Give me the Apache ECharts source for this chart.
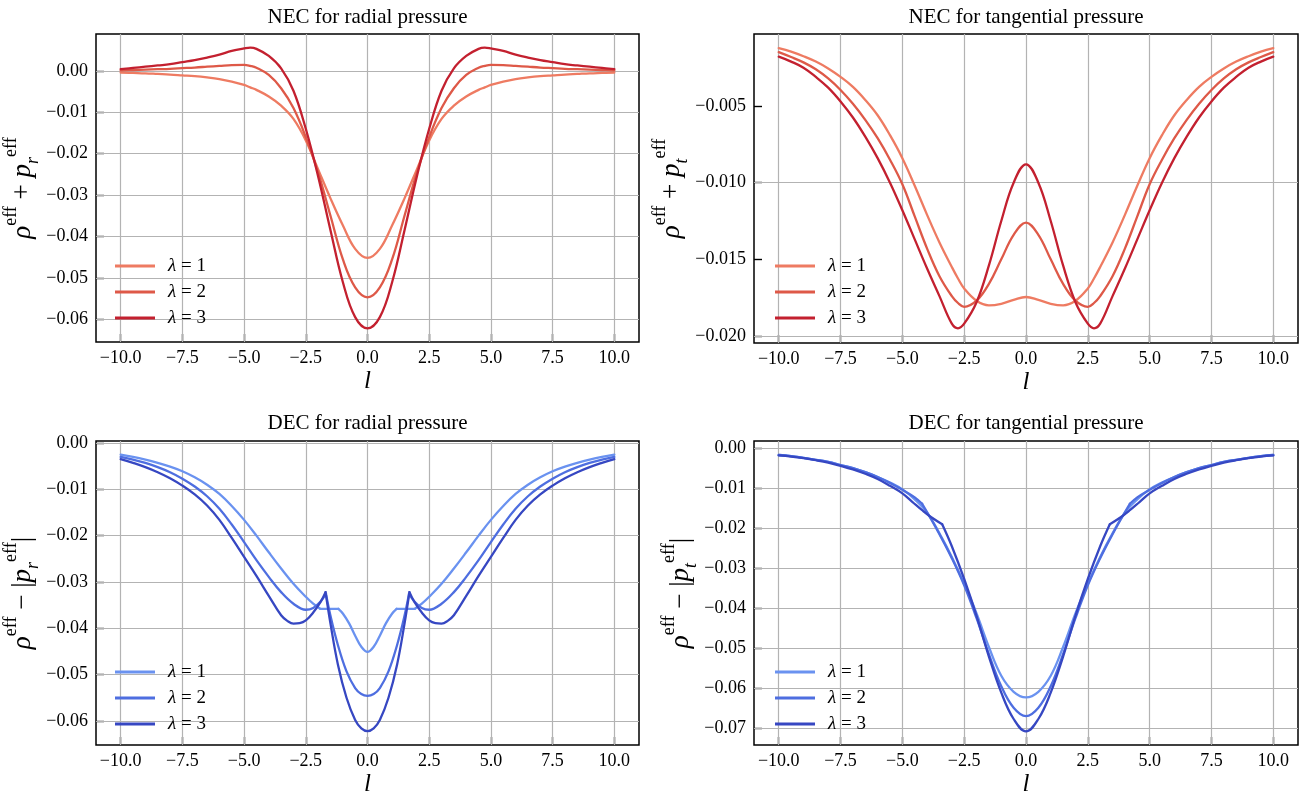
<!DOCTYPE html>
<html><head><meta charset="utf-8">
<script src="https://cdn.jsdelivr.net/npm/echarts@6/dist/echarts.min.js"></script>
<style>html,body{margin:0;padding:0;background:#fff}#c{width:1302px;height:798px}</style>
</head><body><div id="c"></div>
<script>
// ---------- ticks / labels ----------
const xTicks = [-10, -7.5, -5, -2.5, 0, 2.5, 5, 7.5, 10];
const yTicksNecR = [0, -0.01, -0.02, -0.03, -0.04, -0.05, -0.06];
const yTicksNecT = [-0.005, -0.010, -0.015, -0.020];
const yTicksDecR = [0, -0.01, -0.02, -0.03, -0.04, -0.05, -0.06];
const yTicksDecT = [0, -0.01, -0.02, -0.03, -0.04, -0.05, -0.06, -0.07];
const titles = ['NEC for radial pressure', 'NEC for tangential pressure', 'DEC for radial pressure', 'DEC for tangential pressure'];
const lambdas = ['1', '2', '3'];
const SCALE = 1e-3; // values below are given in units of 1e-3

// ---------- NEC radial ----------
const necR_l = [-10,-9.5,-9,-8.5,-8,-7.5,-7,-6.5,-6,-5.5,-5,-4.75,-4.5,-4,-3.5,-3,-2.5,-2,-1.5,-1,-0.5,0,0.5,1,1.5,2,2.5,3,3.5,4,4.5,4.75,5,5.5,6,6.5,7,7.5,8,8.5,9,9.5,10];
const necR_1 = [-0.4,-0.5,-0.6,-0.75,-0.9,-1.1,-1.3,-1.6,-2.0,-2.6,-3.4,-4.0,-4.6,-6.2,-8.4,-11.6,-16.8,-23.8,-30.8,-37.3,-43.0,-45.2,-43.0,-37.3,-30.8,-23.8,-16.8,-11.6,-8.4,-6.2,-4.6,-4.0,-3.4,-2.6,-2.0,-1.6,-1.3,-1.1,-0.9,-0.75,-0.6,-0.5,-0.4];
const necR_2 = [0.1,0.2,0.3,0.4,0.5,0.65,0.8,1.0,1.2,1.4,1.45,1.2,0.75,-1.0,-4.2,-9.0,-16.0,-24.6,-35.0,-45.5,-52.3,-54.7,-52.3,-45.5,-35.0,-24.6,-16.0,-9.0,-4.2,-1.0,0.75,1.2,1.45,1.4,1.2,1.0,0.8,0.65,0.5,0.4,0.3,0.2,0.1];
const necR_3 = [0.4,0.7,1.0,1.3,1.6,2.1,2.6,3.2,3.9,4.8,5.4,5.6,5.3,3.6,0.6,-4.8,-14.0,-25.5,-38.5,-51.0,-59.5,-62.2,-59.5,-51.0,-38.5,-25.5,-14.0,-4.8,0.6,3.6,5.3,5.6,5.4,4.8,3.9,3.2,2.6,2.1,1.6,1.3,1.0,0.7,0.4];

// ---------- NEC tangential ----------
const necT_l = [-10,-9.5,-9,-8.5,-8,-7.5,-7,-6.5,-6,-5.5,-5,-4.5,-4,-3.5,-3,-2.75,-2.5,-2,-1.5,-1,-0.5,0,0.5,1,1.5,2,2.5,2.75,3,3.5,4,4.5,5,5.5,6,6.5,7,7.5,8,8.5,9,9.5,10];
const necT_1 = [-1.22,-1.45,-1.75,-2.1,-2.55,-3.1,-3.75,-4.6,-5.6,-6.9,-8.4,-10.2,-12.1,-13.9,-15.5,-16.25,-16.9,-17.7,-18.0,-17.9,-17.65,-17.46,-17.65,-17.9,-18.0,-17.7,-16.9,-16.25,-15.5,-13.9,-12.1,-10.2,-8.4,-6.9,-5.6,-4.6,-3.75,-3.1,-2.55,-2.1,-1.75,-1.45,-1.22];
const necT_2 = [-1.48,-1.8,-2.15,-2.6,-3.2,-3.95,-4.85,-5.9,-7.1,-8.5,-10.1,-12.2,-14.3,-16.1,-17.4,-17.85,-18.1,-17.7,-16.6,-15.0,-13.4,-12.6,-13.4,-15.0,-16.6,-17.7,-18.1,-17.85,-17.4,-16.1,-14.3,-12.2,-10.1,-8.5,-7.1,-5.9,-4.85,-3.95,-3.2,-2.6,-2.15,-1.8,-1.48];
const necT_3 = [-1.78,-2.1,-2.5,-3.1,-3.8,-4.7,-5.75,-7.0,-8.4,-10.0,-11.8,-13.7,-15.6,-17.4,-19.2,-19.5,-19.2,-17.8,-15.4,-12.5,-10.0,-8.8,-10.0,-12.5,-15.4,-17.8,-19.2,-19.5,-19.2,-17.4,-15.6,-13.7,-11.8,-10.0,-8.4,-7.0,-5.75,-4.7,-3.8,-3.1,-2.5,-2.1,-1.78];

// ---------- DEC radial ([l, value]) ----------
const decR_1 = [[-10,-2.5],[-9.5,-3.0],[-9,-3.6],[-8.5,-4.3],[-8,-5.1],[-7.5,-6.1],[-7,-7.4],[-6.5,-9.0],[-6,-11.0],[-5.5,-13.6],[-5,-16.6],[-4.5,-20.0],[-4,-23.6],[-3.5,-27.1],[-3,-30.4],[-2.5,-33.2],[-2.2,-34.7],[-1.92,-35.8],[-1.18,-35.8],[-1,-36.8],[-0.75,-38.9],[-0.5,-41.6],[-0.25,-44.0],[0,-45.1],[0.25,-44.0],[0.5,-41.6],[0.75,-38.9],[1,-36.8],[1.18,-35.8],[1.92,-35.8],[2.2,-34.7],[2.5,-33.2],[3,-30.4],[3.5,-27.1],[4,-23.6],[4.5,-20.0],[5,-16.6],[5.5,-13.6],[6,-11.0],[6.5,-9.0],[7,-7.4],[7.5,-6.1],[8,-5.1],[8.5,-4.3],[9,-3.6],[9.5,-3.0],[10,-2.5]];
const decR_2 = [[-10,-3.0],[-9.5,-3.6],[-9,-4.3],[-8.5,-5.2],[-8,-6.3],[-7.5,-7.7],[-7,-9.4],[-6.5,-11.5],[-6,-14.2],[-5.5,-17.6],[-5,-21.4],[-4.5,-25.3],[-4,-28.9],[-3.5,-32.2],[-3,-34.7],[-2.5,-36.0],[-2.2,-35.6],[-1.9,-34.2],[-1.68,-32.6],[-1.5,-37.3],[-1.2,-43.6],[-0.85,-49.3],[-0.5,-52.9],[-0.25,-54.2],[0,-54.6],[0.25,-54.2],[0.5,-52.9],[0.85,-49.3],[1.2,-43.6],[1.5,-37.3],[1.68,-32.6],[1.9,-34.2],[2.2,-35.6],[2.5,-36.0],[3,-34.7],[3.5,-32.2],[4,-28.9],[4.5,-25.3],[5,-21.4],[5.5,-17.6],[6,-14.2],[6.5,-11.5],[7,-9.4],[7.5,-7.7],[8,-6.3],[8.5,-5.2],[9,-4.3],[9.5,-3.6],[10,-3.0]];
const decR_3 = [[-10,-3.5],[-9.5,-4.3],[-9,-5.2],[-8.5,-6.3],[-8,-7.6],[-7.5,-9.2],[-7,-11.1],[-6.5,-13.5],[-6,-16.6],[-5.5,-20.5],[-5,-24.6],[-4.5,-28.7],[-4,-33.0],[-3.5,-37.2],[-3.25,-38.4],[-3,-39.0],[-2.75,-38.9],[-2.5,-38.3],[-2.2,-36.6],[-1.9,-34.3],[-1.7,-32.2],[-1.5,-39.0],[-1.2,-47.8],[-0.85,-55.0],[-0.5,-59.8],[-0.25,-61.6],[0,-62.2],[0.25,-61.6],[0.5,-59.8],[0.85,-55.0],[1.2,-47.8],[1.5,-39.0],[1.7,-32.2],[1.9,-34.3],[2.2,-36.6],[2.5,-38.3],[2.75,-38.9],[3,-39.0],[3.25,-38.4],[3.5,-37.2],[4,-33.0],[4.5,-28.7],[5,-24.6],[5.5,-20.5],[6,-16.6],[6.5,-13.5],[7,-11.1],[7.5,-9.2],[8,-7.6],[8.5,-6.3],[9,-5.2],[9.5,-4.3],[10,-3.5]];
// corners (kinks) in the DEC curves
const decR_kinks = [[-1.92,-1.18,1.18,1.92], [-1.68,1.68], [-1.7,1.7]];

// ---------- DEC tangential ([l, value]) ----------
const decT_1 = [[-10,-1.8],[-9.5,-2.1],[-9,-2.5],[-8.5,-3.0],[-8,-3.5],[-7.5,-4.3],[-7,-5.1],[-6.5,-6.1],[-6,-7.3],[-5.5,-8.7],[-5,-10.4],[-4.5,-12.9],[-4,-16.2],[-3.5,-21.4],[-3,-27.3],[-2.5,-34.0],[-2,-41.4],[-1.5,-49.8],[-1,-57.0],[-0.5,-61.0],[0,-62.4],[0.5,-61.0],[1,-57.0],[1.5,-49.8],[2,-41.4],[2.5,-34.0],[3,-27.3],[3.5,-21.4],[4,-16.2],[4.5,-12.9],[5,-10.4],[5.5,-8.7],[6,-7.3],[6.5,-6.1],[7,-5.1],[7.5,-4.3],[8,-3.5],[8.5,-3.0],[9,-2.5],[9.5,-2.1],[10,-1.8]];
const decT_2 = [[-10,-1.8],[-9.5,-2.1],[-9,-2.5],[-8.5,-3.0],[-8,-3.5],[-7.5,-4.3],[-7,-5.1],[-6.5,-6.1],[-6,-7.3],[-5.5,-8.8],[-5,-10.5],[-4.5,-12.4],[-4.2,-14.0],[-3.85,-17.7],[-3.5,-21.6],[-3,-27.6],[-2.5,-34.4],[-2,-42.6],[-1.5,-51.6],[-1,-59.6],[-0.5,-65.0],[0,-67.1],[0.5,-65.0],[1,-59.6],[1.5,-51.6],[2,-42.6],[2.5,-34.4],[3,-27.6],[3.5,-21.6],[3.85,-17.7],[4.2,-14.0],[4.5,-12.4],[5,-10.5],[5.5,-8.8],[6,-7.3],[6.5,-6.1],[7,-5.1],[7.5,-4.3],[8,-3.5],[8.5,-3.0],[9,-2.5],[9.5,-2.1],[10,-1.8]];
const decT_3 = [[-10,-1.9],[-9.5,-2.2],[-9,-2.6],[-8.5,-3.1],[-8,-3.7],[-7.5,-4.5],[-7,-5.4],[-6.5,-6.5],[-6,-7.8],[-5.5,-9.5],[-5,-11.4],[-4.6,-13.5],[-4.2,-15.6],[-3.8,-17.5],[-3.39,-19.1],[-3,-24.6],[-2.5,-32.8],[-2,-42.0],[-1.5,-52.2],[-1,-61.2],[-0.5,-67.8],[0,-70.9],[0.5,-67.8],[1,-61.2],[1.5,-52.2],[2,-42.0],[2.5,-32.8],[3,-24.6],[3.39,-19.1],[3.8,-17.5],[4.2,-15.6],[4.6,-13.5],[5,-11.4],[5.5,-9.5],[6,-7.8],[6.5,-6.5],[7,-5.4],[7.5,-4.5],[8,-3.7],[8.5,-3.1],[9,-2.6],[9.5,-2.2],[10,-1.9]];
const decT_kinks = [[], [-4.2,4.2], [-3.39,3.39]];

// ---------- styling ----------
const FONT = "'Liberation Serif', 'DejaVu Serif', serif";
const reds = ['#EE7B62', '#DE5948', '#C3202F'];
const blues = ['#6A92F0', '#4E6EE0', '#3647C2'];
const GRID_COLOR = '#b3b3b3';

const grids = [
  {left: 96, top: 34, width: 543, height: 308},
  {left: 754, top: 34, width: 544, height: 309},
  {left: 96, top: 441, width: 543, height: 308},
  {left: 754, top: 441, width: 544, height: 308}
];
const yRanges = [[-0.0655, 0.0089], [-0.02046, -0.0003], [-0.0652, 0.00043], [-0.0743, 0.0017]];
const yTickSets = [yTicksNecR, yTicksNecT, yTicksDecR, yTicksDecT];
const yDigits = [2, 3, 2, 2];
const yNames = [
  '{m|ρ}{s|eff}{o| + }{m|p}{b|r}{s|eff}',
  '{m|ρ}{s|eff}{o| + }{m|p}{b|t}{s|eff}',
  '{m|ρ}{s|eff}{o| − |}{m|p}{b|r}{s|eff}{o||}',
  '{m|ρ}{s|eff}{o| − |}{m|p}{b|t}{s|eff}{o||}'
];
const yNameGaps = [52, 55, 52, 50];

const fmt = (v, d) => (v < 0 ? '\u2212' : '') + Math.abs(v).toFixed(d);

const nameRich = {
  m: {fontFamily: FONT, fontStyle: 'italic', fontSize: 27, lineHeight: 40, verticalAlign: 'middle', color: '#000'},
  o: {fontFamily: FONT, fontSize: 27, lineHeight: 40, verticalAlign: 'middle', color: '#000'},
  s: {fontFamily: FONT, fontSize: 18, lineHeight: 18, verticalAlign: 'top', color: '#000'},
  b: {fontFamily: FONT, fontStyle: 'italic', fontSize: 18, lineHeight: 18, verticalAlign: 'bottom', color: '#000'}
};

const xAxes = grids.map((g, i) => ({
  type: 'value', gridIndex: i, min: -11, max: 11,
  name: 'l', nameLocation: 'middle', nameGap: 27,
  nameTextStyle: {fontFamily: FONT, fontStyle: 'italic', fontSize: 25, color: '#000'},
  axisLine: {show: false, onZero: false},
  axisTick: {show: true, inside: true, length: 8, customValues: xTicks, lineStyle: {color: '#000', width: 1.4}},
  axisLabel: {show: true, customValues: xTicks, margin: 7, fontFamily: FONT, fontSize: 18, color: '#000',
    formatter: v => fmt(v, 1)},
  splitLine: {show: false}
}));
const yAxes = grids.map((g, i) => ({
  type: 'value', gridIndex: i, min: yRanges[i][0], max: yRanges[i][1],
  name: yNames[i], nameLocation: 'middle', nameRotate: 90, nameGap: yNameGaps[i],
  nameTextStyle: {rich: nameRich},
  axisLine: {show: false, onZero: false},
  axisTick: {show: true, inside: true, length: 8, customValues: yTickSets[i], lineStyle: {color: '#000', width: 1.4}},
  axisLabel: {show: true, customValues: yTickSets[i], margin: 8, fontFamily: FONT, fontSize: 18, color: '#000',
    formatter: v => fmt(v, yDigits[i])},
  splitLine: {show: false}
}));

const series = [];
// grid lines (drawn under the curves) via markLine on the library's scales
grids.forEach((g, i) => {
  series.push({
    type: 'line', xAxisIndex: i, yAxisIndex: i, z: 1, silent: true,
    data: [[0, yTickSets[i][0]]], showSymbol: false, lineStyle: {opacity: 0},
    markLine: {
      silent: true, symbol: ['none', 'none'], label: {show: false}, z: 1, animation: false,
      lineStyle: {color: GRID_COLOR, width: 1.2, type: 'solid'},
      emphasis: {disabled: true},
      data: xTicks.map(v => ({xAxis: v})).concat(yTickSets[i].map(v => ({yAxis: v})))
    }
  });
});

// split a curve at its corner points so each smooth piece meets the next at a sharp corner
function splitAt(pts, kinks) {
  const segs = [];
  let cur = [];
  pts.forEach(p => {
    cur.push(p);
    if (kinks.indexOf(p[0]) >= 0 && cur.length > 1) { segs.push(cur); cur = [p]; }
  });
  if (cur.length > 1) segs.push(cur);
  return segs;
}

const panelData = [
  [necR_1, necR_2, necR_3].map(arr => [arr.map((v, k) => [necR_l[k], v * SCALE])]),
  [necT_1, necT_2, necT_3].map(arr => [arr.map((v, k) => [necT_l[k], v * SCALE])]),
  [decR_1, decR_2, decR_3].map((arr, j) => splitAt(arr, decR_kinks[j]).map(s => s.map(p => [p[0], p[1] * SCALE]))),
  [decT_1, decT_2, decT_3].map((arr, j) => splitAt(arr, decT_kinks[j]).map(s => s.map(p => [p[0], p[1] * SCALE])))
];
const panelColors = [reds, reds, blues, blues];
const legendNames = [];
panelData.forEach((sets, i) => {
  const names = [];
  sets.forEach((segs, j) => {
    const nm = 'p' + i + '_' + lambdas[j];
    names.push(nm);
    segs.forEach(d => {
      series.push({
        name: nm, type: 'line', xAxisIndex: i, yAxisIndex: i, z: 3,
        data: d, showSymbol: false, smooth: 0.4, silent: true,
        color: panelColors[i][j],
        lineStyle: {color: panelColors[i][j], width: 2.3, cap: 'round', join: 'round'},
        emphasis: {disabled: true}
      });
    });
  });
  legendNames.push(names);
});

const legendPos = [[110, 251], [770, 251], [110, 657], [770, 657]];
const legends = legendNames.map((names, i) => ({
  data: names, orient: 'vertical', left: legendPos[i][0], top: legendPos[i][1],
  icon: 'rect', itemWidth: 40, itemHeight: 3, itemGap: 6, selectedMode: false,
  formatter: n => '{g|}{i|λ}{t| = ' + n.split('_')[1] + '}',
  textStyle: {fontFamily: FONT, fontSize: 19, color: '#000', lineHeight: 20,
    rich: {g: {width: 8}, i: {fontFamily: FONT, fontStyle: 'italic', fontSize: 19}, t: {fontFamily: FONT, fontSize: 19}}}
}));

const titleCenters = [[367.5, 17], [1026, 17], [367.5, 423], [1026, 423]];
const graphics = titles.map((t, i) => ({
  type: 'text', x: titleCenters[i][0], y: titleCenters[i][1], silent: true,
  style: {text: t, textAlign: 'center', textVerticalAlign: 'middle', fontFamily: FONT, fontSize: 21, fill: '#000'}
}));

const chart = echarts.init(document.getElementById('c'), null, {renderer: 'canvas'});
chart.setOption({
  animation: false,
  backgroundColor: '#ffffff',
  grid: grids.map(g => Object.assign({show: true, borderColor: '#000', borderWidth: 1.5, backgroundColor: 'transparent', containLabel: false}, g)),
  xAxis: xAxes,
  yAxis: yAxes,
  legend: legends,
  graphic: graphics,
  series: series
});
</script></body></html>
